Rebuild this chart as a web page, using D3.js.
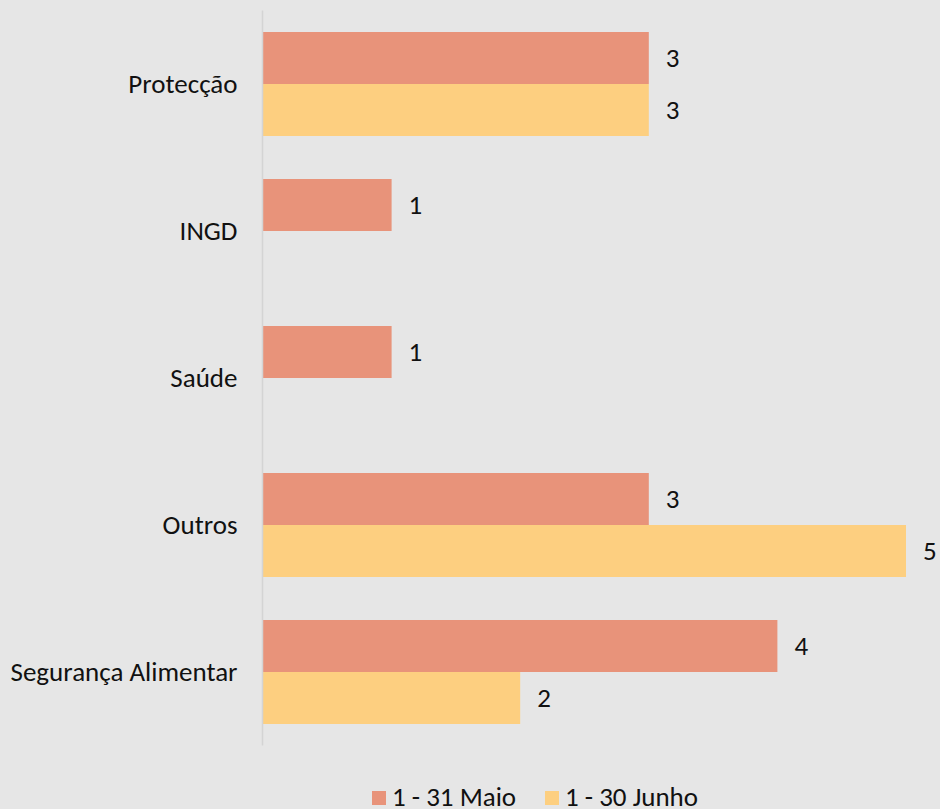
<!DOCTYPE html>
<html>
<head>
<meta charset="utf-8">
<script src="https://cdn.jsdelivr.net/npm/d3@7"></script>
<style>
  html, body { margin: 0; padding: 0; background: #e6e6e6; overflow: hidden; }
  svg { display: block; }
  text { font-family: Carlito, Calibri, Lato, "Open Sans", sans-serif; fill: #111; }
</style>
</head>
<body>
<svg id="chart" width="940" height="809"></svg>
<script>
// Categories, top to bottom
const categories = ["Protecção", "INGD", "Saúde", "Outros", "Segurança Alimentar"];
// Series names and values (null = no report in that period)
const seriesNames = ["1 - 31 Maio", "1 - 30 Junho"];
const maioValues = [3, 1, 1, 3, 4];
const junhoValues = [3, null, null, 5, 2];
const seriesColors = ["#e8937a", "#fdcf80"];

const FONT = "Carlito, Calibri, Lato, 'Open Sans', sans-serif";
const FS = 27;

const svg = d3.select("#chart");

const x = d3.scaleLinear().domain([0, 5]).range([263, 906]);
const y = d3.scaleBand().domain(categories).range([10.5, 745.5])
  .paddingInner(0.2925).paddingOuter(0.14625);
const sub = d3.scaleBand().domain(seriesNames).range([0, y.bandwidth()]);

const seriesValues = [maioValues, junhoValues];

// Bars with value labels
seriesNames.forEach((name, si) => {
  const rows = categories.map((c, i) => ({ c, v: seriesValues[si][i] }))
    .filter(d => d.v != null);
  const g = svg.append("g");
  g.selectAll("rect").data(rows).join("rect")
    .attr("x", x(0))
    .attr("y", d => y(d.c) + sub(name))
    .attr("width", d => x(d.v) - x(0))
    .attr("height", sub.bandwidth())
    .attr("fill", seriesColors[si]);
  g.selectAll("text").data(rows).join("text")
    .attr("x", d => x(d.v) + 17)
    .attr("y", d => y(d.c) + sub(name) + sub.bandwidth() / 2)
    .attr("dy", "0.35em")
    .attr("font-size", FS)
    .text(d => d.v);
});

// Category axis
const axis = svg.append("g").attr("transform", `translate(${x(0) - 0.5},0)`)
  .call(d3.axisLeft(y).tickSize(0).tickPadding(25));
axis.attr("font-family", null).attr("font-size", null);
axis.select(".domain").attr("stroke", "#d4d4d4").attr("stroke-width", 1.5)
  .attr("d", `M0,10.5V745.5`);
axis.selectAll(".tick text").attr("font-size", FS)
  .style("font-family", FONT)
  .attr("fill", "#111");

// Legend
const legend = svg.append("g");
const legendX = [372, 545];
seriesNames.forEach((name, i) => {
  legend.append("rect").attr("x", legendX[i]).attr("y", 791)
    .attr("width", 14).attr("height", 14).attr("fill", seriesColors[i]);
  legend.append("text").attr("x", legendX[i] + 20).attr("y", 806)
    .attr("font-size", FS).text(name);
});
</script>
</body>
</html>
